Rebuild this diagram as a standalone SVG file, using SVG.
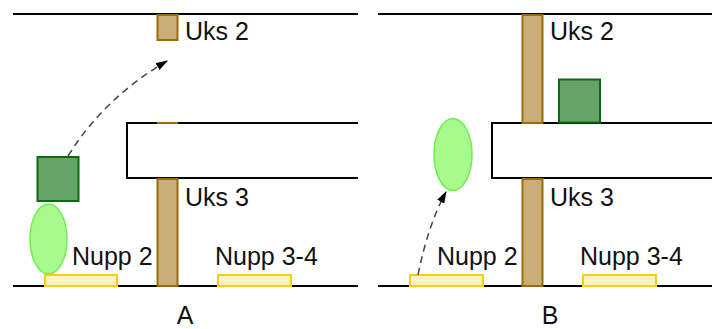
<svg xmlns="http://www.w3.org/2000/svg" width="712" height="329" viewBox="0 0 712 329">
  <defs>
    <marker id="arrow" viewBox="0 0 12 8" refX="11" refY="4" markerWidth="12" markerHeight="8" markerUnits="userSpaceOnUse" orient="auto">
      <path d="M0,0 L12,4 L0,8 z" fill="#000"/>
    </marker>
    <style>
      .wall { fill: none; stroke: #000; stroke-width: 2; }
      .door { fill: #c9ae7a; stroke: #9a6a0c; stroke-width: 2; }
      .box { fill: #66a366; stroke: #0e6a0e; stroke-width: 2; }
      .ball { fill: #a6fa8e; stroke: #6cf04a; stroke-width: 1.5; }
      .pad { fill: #fff3c4; stroke: #f7cc1c; stroke-width: 2; }
      .move { fill: none; stroke: #444; stroke-width: 1.5; stroke-dasharray: 7 5; }
      text { font-family: "Liberation Sans", Arial, sans-serif; font-size: 25px; fill: #111; }
    </style>
  </defs>

  <!-- Panel A: walls -->
  <g id="wallsA">
    <line class="wall" x1="13" y1="14" x2="358" y2="14"/>
    <polyline class="wall" points="358,123 127,123 127,178 358,178"/>
    <line class="wall" x1="13" y1="286" x2="358" y2="286"/>
  </g>

  <!-- Panel B: walls -->
  <g id="wallsB">
    <line class="wall" x1="378" y1="14" x2="712" y2="14"/>
    <polyline class="wall" points="712,123 492,123 492,178 712,178"/>
    <line class="wall" x1="378" y1="286" x2="712" y2="286"/>
  </g>

  <!-- Panel A nodes -->
  <g id="doorA2">
    <rect class="door" x="157.5" y="15" width="20" height="25"/>
    <line x1="157" y1="123" x2="178" y2="123" stroke="#9a6a0c" stroke-width="2"/>
    <text x="185" y="40">Uks 2</text>
  </g>
  <g id="doorA3">
    <rect class="door" x="157.5" y="179" width="20" height="107"/>
    <text x="185" y="206">Uks 3</text>
  </g>
  <g id="boxA">
    <rect class="box" x="37.5" y="157" width="41" height="44"/>
  </g>
  <g id="ballA">
    <ellipse class="ball" cx="48.5" cy="239" rx="18.5" ry="35"/>
  </g>
  <g id="padA2">
    <rect class="pad" x="45" y="275" width="72" height="11"/>
    <text x="72" y="265">Nupp 2</text>
  </g>
  <g id="padA34">
    <rect class="pad" x="218" y="275" width="73" height="11"/>
    <text x="215" y="265">Nupp 3-4</text>
  </g>
  <g id="labelA">
    <text x="185" y="324" text-anchor="middle">A</text>
  </g>

  <!-- Panel B nodes -->
  <g id="doorB2">
    <rect class="door" x="522.5" y="15" width="20" height="108"/>
    <text x="550" y="40">Uks 2</text>
  </g>
  <g id="doorB3">
    <rect class="door" x="522.5" y="179" width="20" height="107"/>
    <text x="550" y="206">Uks 3</text>
  </g>
  <g id="boxB">
    <rect class="box" x="559" y="79.5" width="41" height="43"/>
  </g>
  <g id="ballB">
    <ellipse class="ball" cx="453" cy="154.5" rx="19" ry="36"/>
  </g>
  <g id="padB2">
    <rect class="pad" x="410" y="275" width="73" height="11"/>
    <text x="437" y="265">Nupp 2</text>
  </g>
  <g id="padB34">
    <rect class="pad" x="583" y="275" width="73" height="11"/>
    <text x="580" y="265">Nupp 3-4</text>
  </g>
  <g id="labelB">
    <text x="550" y="324" text-anchor="middle">B</text>
  </g>

  <!-- Movement connectors -->
  <g id="connectors">
    <path class="move" d="M68,156 Q104,98 167,61" marker-end="url(#arrow)"/>
    <path class="move" d="M418,275 Q428,225 446,192" marker-end="url(#arrow)"/>
  </g>
</svg>
